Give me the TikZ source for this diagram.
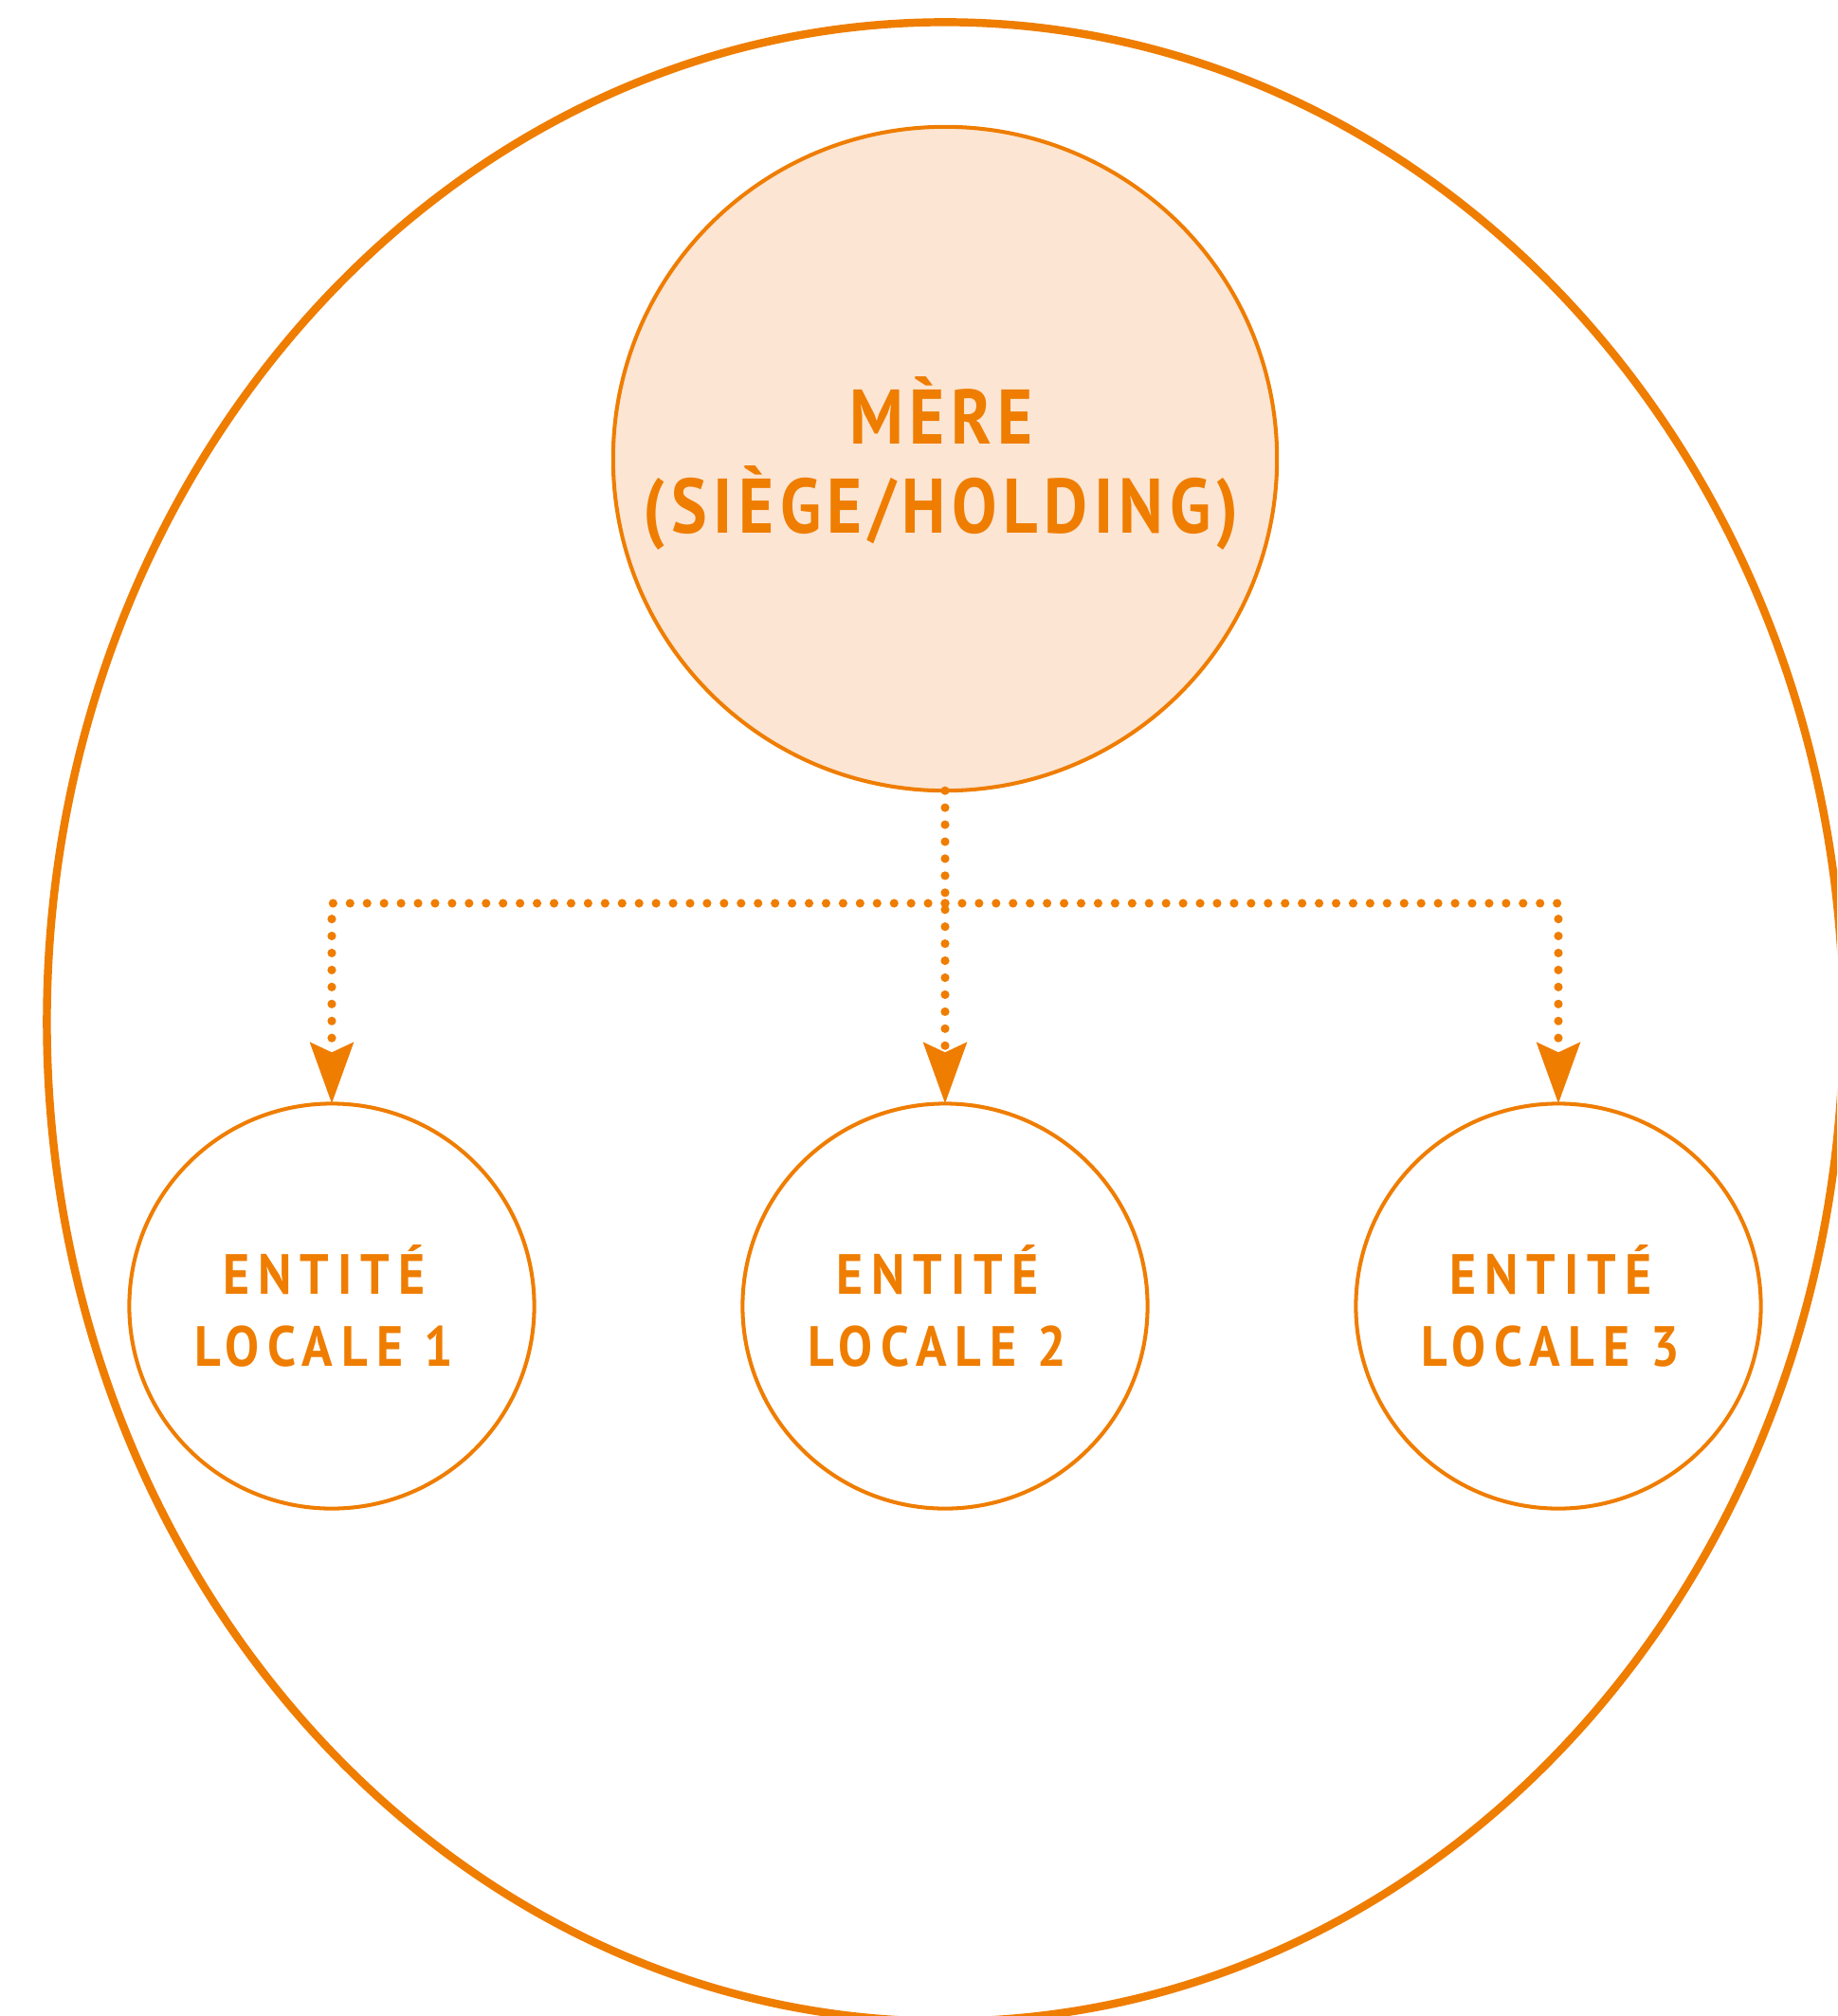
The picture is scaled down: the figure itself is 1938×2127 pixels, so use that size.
\documentclass[tikz,border=0pt]{standalone}
\usepackage{fontspec}
\usetikzlibrary{arrows.meta}
\newfontfamily\titlefont[FakeStretch=0.87,LetterSpace=8]{PT Sans}
\newfontfamily\entityfont[FakeStretch=0.9,LetterSpace=15]{PT Sans}
\definecolor{brandorange}{HTML}{EF7D00}
\definecolor{peach}{HTML}{FCE5D3}
\begin{document}
\begin{tikzpicture}[x=0.01cm,y=-0.01cm,
  frame/.style={draw=brandorange,line width=2.4pt},
  entity/.style={circle,draw=brandorange,line width=1.15pt,inner sep=0pt,outer sep=0pt,
    minimum size=4.27cm},
  parent/.style={entity,fill=peach,minimum size=7cm},
  entitylabel/.style={align=center,inner sep=0pt,text=brandorange,
    font=\entityfont\bfseries\fontsize{17}{21.6}\selectfont},
  parentlabel/.style={entitylabel,font=\titlefont\bfseries\fontsize{23.2}{26.8}\selectfont},
  link/.style={draw=brandorange,line width=2.6pt,line cap=round,dash pattern=on 0pt off 5.1pt},
  tip/.style={-{Stealth[length=0.64cm,width=0.45cm,inset=0.1cm,fill=brandorange]}}
]
\clip (0,0) rectangle (1938,2127);
% outer boundary of the group
\draw[frame] (997,1078) ellipse [x radius=9.47cm,y radius=10.54cm];
% parent company and local entities
\node[parent] (mere) at (997,484) {};
\node[entity] (e1) at (350,1378) {};
\node[entity] (e2) at (997,1378) {};
\node[entity] (e3) at (1644,1378) {};
% their labels
\node[parentlabel] (mereLabel) at (993,489) {MÈRE\\(SIÈGE/HOLDING)};
\node[entitylabel] (e1Label) at (342,1378) {ENTITÉ\\LOCALE 1};
\node[entitylabel] (e2Label) at (989,1378) {ENTITÉ\\LOCALE 2};
\node[entitylabel] (e3Label) at (1636,1378) {ENTITÉ\\LOCALE 3};
% dotted ownership links
\coordinate (j) at (997,953);
\draw[link,tip] (mere) -- (e2);
\draw[link,tip] (j) -| (e1);
\draw[link,tip] (j) -| (e3);
\end{tikzpicture}
\end{document}
